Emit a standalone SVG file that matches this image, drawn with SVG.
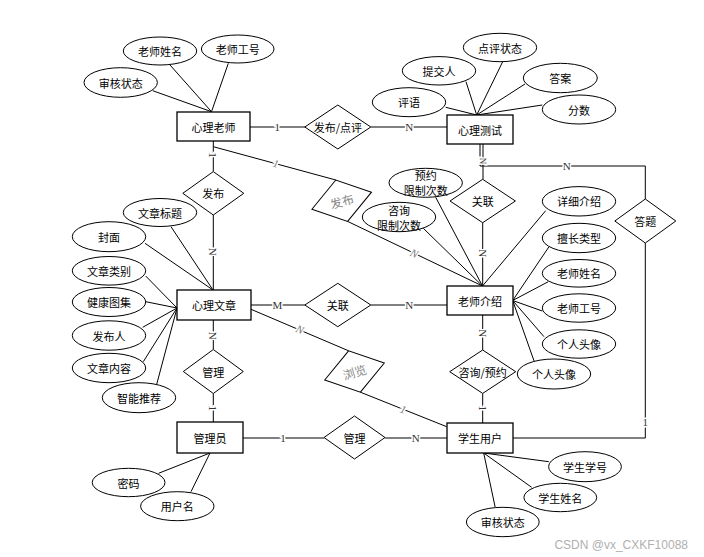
<svg xmlns="http://www.w3.org/2000/svg" width="704" height="557" viewBox="0 0 704 557">
<style>
.ent{fill:#fff;stroke:#000;stroke-width:1.3}
.att{fill:#fff;stroke:#000;stroke-width:1}
.rel{fill:#fff;stroke:#000;stroke-width:1}
.ln{fill:none;stroke:#000;stroke-width:1}
.t{font-family:"Noto Sans CJK SC","Liberation Sans",sans-serif;font-size:11px;fill:#000;text-anchor:middle;dominant-baseline:central}
.g{font-family:"Noto Sans CJK SC","Liberation Serif",serif;font-size:12px;fill:#888;text-anchor:middle;dominant-baseline:central}
.lb{font-family:"Liberation Serif",serif;font-size:11px;fill:#333;text-anchor:middle;dominant-baseline:central;stroke:#fff;stroke-width:3;paint-order:stroke}
.lg{font-family:"Liberation Serif",serif;font-size:11px;font-style:italic;fill:#777;text-anchor:middle;dominant-baseline:central;stroke:#fff;stroke-width:3;paint-order:stroke}
.wm{font-family:"Liberation Sans",sans-serif;font-size:12px;fill:#b0b0b0}
</style>
<rect width="704" height="557" fill="#fff"/>
<g id="connectors">
<!-- attribute lines -->
<line class="ln" x1="152.7" y1="90.7" x2="211.5" y2="111.7"/>
<line class="ln" x1="170" y1="65" x2="211.5" y2="111.7"/>
<line class="ln" x1="228.3" y1="63.3" x2="211.5" y2="111.7"/>
<line class="ln" x1="445.7" y1="107.3" x2="476.7" y2="115"/>
<line class="ln" x1="466" y1="81.7" x2="476.7" y2="115"/>
<line class="ln" x1="502.7" y1="61.7" x2="476.7" y2="115"/>
<line class="ln" x1="525" y1="84" x2="476.7" y2="115"/>
<line class="ln" x1="542.3" y1="105" x2="476.7" y2="115"/>
<line class="ln" x1="171" y1="226.7" x2="213" y2="290"/>
<line class="ln" x1="145" y1="243.3" x2="213" y2="290"/>
<line class="ln" x1="145.7" y1="276" x2="177" y2="308"/>
<line class="ln" x1="145.7" y1="301.7" x2="177" y2="308"/>
<line class="ln" x1="142.7" y1="327.3" x2="177" y2="308"/>
<line class="ln" x1="143.3" y1="361.7" x2="177" y2="308"/>
<line class="ln" x1="156.7" y1="384.3" x2="177" y2="308"/>
<line class="ln" x1="435.7" y1="197.3" x2="482.5" y2="286"/>
<line class="ln" x1="423.3" y1="228.3" x2="482.5" y2="286"/>
<line class="ln" x1="545.7" y1="210.7" x2="482.5" y2="286"/>
<line class="ln" x1="549" y1="246.7" x2="512.7" y2="300.5"/>
<line class="ln" x1="548.3" y1="281.7" x2="512.7" y2="300.5"/>
<line class="ln" x1="542.3" y1="311" x2="512.7" y2="300.5"/>
<line class="ln" x1="544" y1="336.7" x2="512.7" y2="300.5"/>
<line class="ln" x1="534.3" y1="361.7" x2="512.7" y2="300.5"/>
<line class="ln" x1="548.8" y1="461.7" x2="483.7" y2="453"/>
<line class="ln" x1="531.6" y1="487.3" x2="483.7" y2="453"/>
<line class="ln" x1="495.2" y1="507.3" x2="483.7" y2="453"/>
<line class="ln" x1="158.5" y1="473.3" x2="210" y2="453"/>
<line class="ln" x1="191" y1="491.7" x2="210" y2="453"/>
<!-- relationship lines -->
<line class="ln" x1="250" y1="127" x2="305" y2="127"/>
<line class="ln" x1="370.8" y1="127" x2="447" y2="127"/>
<line class="ln" x1="213.3" y1="141" x2="213.3" y2="171.6"/>
<line class="ln" x1="213.3" y1="215" x2="213.3" y2="290"/>
<line class="ln" x1="213.3" y1="146.7" x2="335.8" y2="180"/>
<line class="ln" x1="347.6" y1="221.4" x2="482.5" y2="286"/>
<line class="ln" x1="251" y1="305" x2="304.8" y2="305"/>
<line class="ln" x1="370.8" y1="305" x2="447" y2="305"/>
<line class="ln" x1="251" y1="309.3" x2="348.6" y2="350.8"/>
<line class="ln" x1="360.4" y1="392.2" x2="446.7" y2="426.7"/>
<line class="ln" x1="213.3" y1="320" x2="213.3" y2="349.5"/>
<line class="ln" x1="213.3" y1="393.5" x2="213.3" y2="422"/>
<line class="ln" x1="243" y1="438" x2="324" y2="438"/>
<line class="ln" x1="385" y1="438" x2="447" y2="438"/>
<polyline class="ln" points="480,144 480,166 645.3,166 645.3,199"/>
<line class="ln" x1="483" y1="144" x2="483" y2="179.3"/>
<line class="ln" x1="482.7" y1="222.7" x2="482.7" y2="286"/>
<line class="ln" x1="482.7" y1="315" x2="482.7" y2="350"/>
<line class="ln" x1="482.7" y1="393.4" x2="482.7" y2="423"/>
<polyline class="ln" points="645.3,243 645.3,438 513,438"/>
<!-- cardinality labels -->
<text class="lb" x="277.3" y="127">1</text>
<text class="lb" x="409.3" y="127">N</text>
<text class="lb" x="277.3" y="305">M</text>
<text class="lb" x="409.3" y="305">N</text>
<text class="lb" x="283" y="438">1</text>
<text class="lb" x="415.7" y="438">N</text>
<text class="lb" x="566.7" y="166">N</text>
<text class="lb" x="645.3" y="421.7">1</text>
<text class="lb" transform="translate(213.3,155) rotate(90)">1</text>
<text class="lb" transform="translate(213.3,251.7) rotate(90)">N</text>
<text class="lb" transform="translate(213.3,335.7) rotate(90)">N</text>
<text class="lb" transform="translate(213.3,408.3) rotate(90)">1</text>
<text class="lb" style="font-size:9px" transform="translate(483,161) rotate(90)">N</text>
<text class="lb" transform="translate(482.5,253.3) rotate(90)">N</text>
<text class="lb" transform="translate(482.7,333.3) rotate(90)">N</text>
<text class="lb" transform="translate(482.7,408.3) rotate(90)">1</text>
<text class="lg" transform="translate(276,163.3) rotate(15)">1</text>
<text class="lg" transform="translate(414.3,253.3) rotate(25)">N</text>
<text class="lg" transform="translate(300,329.3) rotate(23)">N</text>
<text class="lg" transform="translate(403.3,409.3) rotate(21)">1</text>
</g>
<g id="e-teacher"><rect class="ent" x="177" y="112" width="73" height="29"/><text class="t" x="213.5" y="126.5">心理老师</text></g>
<g id="e-test"><rect class="ent" x="447" y="115" width="66" height="29"/><text class="t" x="480" y="129.5">心理测试</text></g>
<g id="e-article"><rect class="ent" x="177" y="290" width="74" height="30"/><text class="t" x="214" y="305">心理文章</text></g>
<g id="e-intro"><rect class="ent" x="447" y="286" width="66" height="29"/><text class="t" x="480" y="300.5">老师介绍</text></g>
<g id="e-admin"><rect class="ent" x="177" y="422" width="66" height="31"/><text class="t" x="210" y="437.5">管理员</text></g>
<g id="e-student"><rect class="ent" x="447" y="423" width="66" height="30"/><text class="t" x="480" y="438">学生用户</text></g>

<g id="a-t-name"><ellipse class="att" cx="160" cy="51" rx="36.7" ry="14"/><text class="t" x="160" y="51">老师姓名</text></g>
<g id="a-t-no"><ellipse class="att" cx="237.7" cy="49" rx="36.3" ry="14"/><text class="t" x="237.7" y="49">老师工号</text></g>
<g id="a-t-status"><ellipse class="att" cx="120.7" cy="82.5" rx="36.7" ry="14.8"/><text class="t" x="120.7" y="82.5">审核状态</text></g>

<g id="a-test-state"><ellipse class="att" cx="500" cy="47.5" rx="36.7" ry="14.2"/><text class="t" x="500" y="47.5">点评状态</text></g>
<g id="a-test-sub"><ellipse class="att" cx="439" cy="70.8" rx="36.7" ry="14.2"/><text class="t" x="439" y="70.8">提交人</text></g>
<g id="a-test-ans"><ellipse class="att" cx="560.3" cy="78" rx="37" ry="14.7"/><text class="t" x="560.3" y="78">答案</text></g>
<g id="a-test-cmt"><ellipse class="att" cx="409" cy="102.2" rx="36.7" ry="14.5"/><text class="t" x="409" y="102.2">评语</text></g>
<g id="a-test-score"><ellipse class="att" cx="579" cy="109.5" rx="36.7" ry="14.5"/><text class="t" x="579" y="109.5">分数</text></g>

<g id="a-art-title"><ellipse class="att" cx="160" cy="212.5" rx="36.7" ry="14"/><text class="t" x="160" y="212.5">文章标题</text></g>
<g id="a-art-cover"><ellipse class="att" cx="109" cy="236.7" rx="36.7" ry="15"/><text class="t" x="109" y="236.7">封面</text></g>
<g id="a-art-cat"><ellipse class="att" cx="109" cy="270.8" rx="36.7" ry="14.3"/><text class="t" x="109" y="270.8">文章类别</text></g>
<g id="a-art-pic"><ellipse class="att" cx="109" cy="302" rx="36.7" ry="14.5"/><text class="t" x="109" y="302">健康图集</text></g>
<g id="a-art-pub"><ellipse class="att" cx="109" cy="335.5" rx="36.7" ry="14.7"/><text class="t" x="109" y="335.5">发布人</text></g>
<g id="a-art-content"><ellipse class="att" cx="109" cy="368" rx="36.7" ry="14.7"/><text class="t" x="109" y="368">文章内容</text></g>
<g id="a-art-rec"><ellipse class="att" cx="139" cy="397.7" rx="36.7" ry="15"/><text class="t" x="139" y="397.7">智能推荐</text></g>

<g id="a-in-yy"><ellipse class="att" cx="425.7" cy="182.8" rx="36.7" ry="14.5"/><text class="t" x="425.7" y="174.5">预约</text><text class="t" x="425.7" y="190">限制次数</text></g>
<g id="a-in-zx"><ellipse class="att" cx="399" cy="217" rx="36.7" ry="14.7"/><text class="t" x="399" y="210">咨询</text><text class="t" x="399" y="225">限制次数</text></g>
<g id="a-in-detail"><ellipse class="att" cx="579" cy="201.3" rx="36.7" ry="14.7"/><text class="t" x="579" y="201.3">详细介绍</text></g>
<g id="a-in-type"><ellipse class="att" cx="579" cy="238" rx="36.7" ry="14.7"/><text class="t" x="579" y="238">擅长类型</text></g>
<g id="a-in-name"><ellipse class="att" cx="579" cy="273.3" rx="36.7" ry="13.8"/><text class="t" x="579" y="273.3">老师姓名</text></g>
<g id="a-in-no"><ellipse class="att" cx="579" cy="308" rx="36.7" ry="14.2"/><text class="t" x="579" y="308">老师工号</text></g>
<g id="a-in-av1"><ellipse class="att" cx="579" cy="344" rx="36.7" ry="14.2"/><text class="t" x="579" y="344">个人头像</text></g>
<g id="a-in-av2"><ellipse class="att" cx="554" cy="374" rx="36.7" ry="15"/><text class="t" x="554" y="374">个人头像</text></g>

<g id="a-st-no"><ellipse class="att" cx="585" cy="466.7" rx="36.4" ry="15"/><text class="t" x="585" y="466.7">学生学号</text></g>
<g id="a-st-name"><ellipse class="att" cx="560.3" cy="497.5" rx="36.4" ry="14.2"/><text class="t" x="560.3" y="497.5">学生姓名</text></g>
<g id="a-st-status"><ellipse class="att" cx="502.8" cy="522" rx="36.4" ry="14.7"/><text class="t" x="502.8" y="522">审核状态</text></g>
<g id="a-ad-pwd"><ellipse class="att" cx="128.6" cy="482.5" rx="36.4" ry="14.2"/><text class="t" x="128.6" y="482.5">密码</text></g>
<g id="a-ad-user"><ellipse class="att" cx="177.3" cy="506.2" rx="36.7" ry="14.5"/><text class="t" x="177.3" y="506.2">用户名</text></g>

<g id="r-pubcmt"><polygon class="rel" points="304.8,127 337.8,105 370.8,127 337.8,149"/><text class="t" x="337.8" y="127">发布/点评</text></g>
<g id="r-pub"><polygon class="rel" points="182.8,193.3 213.3,171.6 243.8,193.3 213.3,215"/><text class="t" x="213.3" y="193.3">发布</text></g>
<g id="r-link1"><polygon class="rel" points="450,201 482.7,179.3 515.4,201 482.7,222.7"/><text class="t" x="482.7" y="201">关联</text></g>
<g id="r-answer"><polygon class="rel" points="614.8,221 645.3,199 675.8,221 645.3,243"/><text class="t" x="645.3" y="221">答题</text></g>
<g id="r-link2"><polygon class="rel" points="304.8,305 337.8,283.3 370.8,305 337.8,326.7"/><text class="t" x="337.8" y="305">关联</text></g>
<g id="r-manage1"><polygon class="rel" points="183.3,371.5 213.3,349.5 243.3,371.5 213.3,393.5"/><text class="t" x="213.3" y="371.5">管理</text></g>
<g id="r-consult"><polygon class="rel" points="449.7,371.7 482.7,350 515.7,371.7 482.7,393.4"/><text class="t" x="482.7" y="371.7">咨询/预约</text></g>
<g id="r-manage2"><polygon class="rel" points="324,437.5 354.5,416 385,437.5 354.5,459"/><text class="t" x="354.5" y="437.5">管理</text></g>
<g id="r-pub2" transform="translate(341.7,200.7) rotate(-16)"><polygon class="rel" points="-31,0 0,-21.5 31,0 0,21.5"/><text class="g" x="0" y="0">发布</text></g>
<g id="r-browse" transform="translate(354.5,371.5) rotate(-16)"><polygon class="rel" points="-31,0 0,-21.5 31,0 0,21.5"/><text class="g" x="0" y="0">浏览</text></g>

<text class="wm" x="688" y="549" text-anchor="end">CSDN @vx_CXKF10088</text>
</svg>
